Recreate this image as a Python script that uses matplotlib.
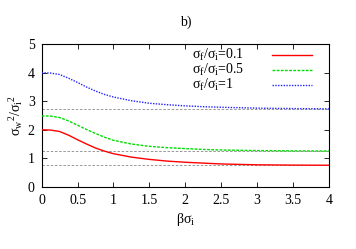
import numpy as np
import matplotlib
matplotlib.use("Agg")
import matplotlib.pyplot as plt

plt.rcParams['font.family'] = ['Liberation Serif', 'DejaVu Serif']
plt.rcParams['mathtext.default'] = 'regular'

# values
x = [0, 0.125, 0.25, 0.375, 0.5, 0.625, 0.75, 0.875, 1, 1.25, 1.5, 1.75, 2,
     2.25, 2.5, 2.75, 3, 3.25, 3.5, 3.75, 4]
red = [2.00, 1.99, 1.94, 1.81, 1.65, 1.50, 1.36, 1.25, 1.16, 1.04, 0.96, 0.90, 0.86,
       0.83, 0.80, 0.785, 0.77, 0.765, 0.76, 0.757, 0.755]
green = [2.49, 2.48, 2.43, 2.31, 2.16, 2.01, 1.87, 1.74, 1.63, 1.50, 1.42, 1.37, 1.34,
         1.31, 1.29, 1.28, 1.27, 1.265, 1.26, 1.257, 1.255]
blue = [4.00, 3.99, 3.94, 3.81, 3.66, 3.50, 3.36, 3.24, 3.15, 3.02, 2.93, 2.88, 2.84,
        2.81, 2.79, 2.775, 2.76, 2.75, 2.745, 2.74, 2.735]
asymptotes = [0.75, 1.25, 2.72]
labels = ['σ$_f$/σ$_i$=0.1', 'σ$_f$/σ$_i$=0.5', 'σ$_f$/σ$_i$=1']

fig = plt.figure(figsize=(3.56, 2.49), dpi=100)
ax = fig.add_axes([0.117, 0.250, 0.807, 0.572])

for a in asymptotes:
    ax.axhline(a, color='#888888', lw=0.6, ls=(0, (3, 2)), zorder=1)

styles = [dict(color='#ff0000', ls='-'),
          dict(color='#00dd00', ls=(0, (2, 1))),
          dict(color='#2222ff', ls=(0, (1, 1)))]
for ys, st, lab, ky in zip([red, green, blue], styles, labels, [0.925, 0.819, 0.714]):
    ax.plot(x, ys, lw=1.0, zorder=3, **st)
    # gnuplot-style key: text left, sample line right
    ax.text(0.524, ky - 0.025, lab, transform=ax.transAxes, fontsize=10,
            va='baseline', ha='left')
    ax.plot([0.803, 0.940], [ky, ky], transform=ax.transAxes, lw=1.0, **st)

ax.set_xlim(0, 4)
ax.set_ylim(0, 5)
ax.set_xticks(np.arange(0, 4.01, 0.5))
ax.set_xticklabels(['0', '0.5', '1', '1.5', '2', '2.5', '3', '3.5', '4'])
ax.set_yticks(range(6))
ax.tick_params(direction='in', top=True, right=True, length=3.5, width=0.6,
               labelsize=10, pad=5)
for s in ax.spines.values():
    s.set_linewidth(0.8)

ax.set_xlabel('βσ$_i$', fontsize=10, labelpad=3)
ax.set_ylabel('σ$_w{}^2$/σ$_i{}^2$', fontsize=10, labelpad=2)
ax.set_title('b)', fontsize=10, pad=13)

fig.savefig('out.png', dpi=100)
